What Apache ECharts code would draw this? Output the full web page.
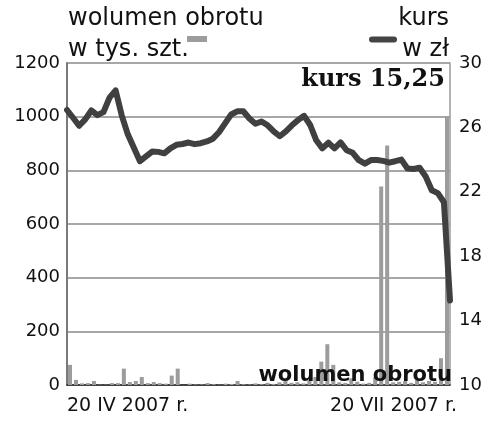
<!DOCTYPE html>
<html>
<head>
<meta charset="utf-8">
<script src="https://cdn.jsdelivr.net/npm/echarts@6/dist/echarts.min.js"></script>
<style>
html,body{margin:0;padding:0;background:#fff;}
#chart{width:500px;height:431px;}
</style>
</head>
<body>
<div id="chart"></div>
<script>
// Volume (thousand shares), one bar per trading day
var volume = [75, 19, 6, 7, 15, 1, 1, 7, 7, 61,
              11, 15, 30, 7, 11, 7, 5, 35, 61, 0,
              5, 2, 2, 7, 3, 1, 5, 4, 15, 3,
              2, 6, 3, 8, 4, 10, 15, 8, 10, 6,
              20, 30, 87, 152, 75, 10, 8, 25, 12, 5,
              8, 30, 740, 893, 10, 12, 15, 8, 20, 10,
              15, 12, 100, 1000];
// Share price (zł)
var price = [27.08, 26.6, 26.1, 26.5, 27.05, 26.76, 26.95, 27.85, 28.3, 26.75,
             25.57, 24.73, 23.9, 24.2, 24.5, 24.48, 24.39, 24.7, 24.92, 24.97,
             25.06, 24.96, 25.02, 25.13, 25.3, 25.7, 26.25, 26.8, 27.0, 27.0,
             26.55, 26.23, 26.37, 26.13, 25.75, 25.45, 25.75, 26.13, 26.45, 26.72,
             26.15, 25.2, 24.7, 25.05, 24.7, 25.07, 24.58, 24.42, 23.96, 23.75,
             23.97, 23.98, 23.92, 23.81, 23.9, 24.0, 23.45, 23.42, 23.49, 22.95,
             22.1, 21.92, 21.35, 15.25];
var dayIndex = volume.map(function (v, i) { return String(i); });
var xTickLabels = ['20 IV 2007 r.', '20 VII 2007 r.'];
var volTitle = ['wolumen obrotu', 'w tys. szt.'];
var priceTitle = ['kurs', 'w zł'];
var lastPriceLabel = 'kurs 15,25';
var volumeLabel = 'wolumen obrotu';

var FONT = '"DejaVu Sans", sans-serif';
var chart = echarts.init(document.getElementById('chart'), null, {renderer: 'canvas'});
var option = {
  backgroundColor: '#fff',
  animation: false,
  grid: {left: 67, right: 50, top: 63, bottom: 46, containLabel: false},
  xAxis: [
    {
      type: 'category', data: dayIndex, boundaryGap: true, position: 'bottom',
      axisLine: {show: true, lineStyle: {color: '#222', width: 1.5}},
      axisTick: {show: false}, axisLabel: {show: false}, splitLine: {show: false}
    },
    {
      type: 'category', data: dayIndex, boundaryGap: false, position: 'bottom',
      axisLine: {show: false}, axisTick: {show: false}, splitLine: {show: false},
      axisLabel: {
        show: true,
        interval: function (i) { return i === 0 || i === dayIndex.length - 1; },
        formatter: function (v, i) { return i === 0 ? xTickLabels[0] : xTickLabels[1]; },
        alignMinLabel: 'left', alignMaxLabel: 'right',
        padding: [0, -7, 0, 0],
        fontSize: 19, fontFamily: FONT, color: '#111', margin: 12
      }
    }
  ],
  yAxis: [
    {
      type: 'value', min: 0, max: 1200, interval: 200, position: 'left',
      axisLine: {show: true, lineStyle: {color: '#7a7a7a', width: 2}},
      axisTick: {show: false},
      splitLine: {show: true, lineStyle: {color: '#8a8a8a', width: 1.5}},
      axisLabel: {fontSize: 18, fontFamily: FONT, color: '#111', margin: 7,
        formatter: function (v) { return String(v); }}
    },
    {
      type: 'value', min: 10, max: 30, interval: 4, position: 'right',
      axisLine: {show: true, lineStyle: {color: '#9a9a9a', width: 1.5}},
      axisTick: {show: false}, splitLine: {show: false},
      axisLabel: {fontSize: 18, fontFamily: FONT, color: '#111', margin: 9,
        formatter: function (v) { return String(v); }}
    }
  ],
  series: [
    {
      type: 'bar', xAxisIndex: 0, yAxisIndex: 0, data: volume,
      barWidth: 4, itemStyle: {color: '#9c9c9c'}, z: 2
    },
    {
      type: 'line', xAxisIndex: 1, yAxisIndex: 1, data: price,
      symbol: 'none', lineStyle: {color: '#404040', width: 6, cap: 'round', join: 'round'}, z: 3
    }
  ],
  graphic: [
    {type: 'text', x: 68, y: 18.8, z: 100, style: {text: volTitle[0], font: '24px ' + FONT, fill: '#111', align: 'left', verticalAlign: 'middle'}},
    {type: 'text', x: 68, y: 49.8, z: 100, style: {text: volTitle[1], font: '24px ' + FONT, fill: '#111', align: 'left', verticalAlign: 'middle'}},
    {type: 'text', x: 449, y: 18.8, z: 100, style: {text: priceTitle[0], font: '24px ' + FONT, fill: '#111', align: 'right', verticalAlign: 'middle'}},
    {type: 'text', x: 449, y: 49.8, z: 100, style: {text: priceTitle[1], font: '24px ' + FONT, fill: '#111', align: 'right', verticalAlign: 'middle'}},
    {type: 'rect', z: 100, shape: {x: 187, y: 36, width: 20, height: 6}, style: {fill: '#9c9c9c'}},
    {type: 'line', z: 100, shape: {x1: 372, y1: 39.5, x2: 394, y2: 39.5}, style: {stroke: '#444', lineWidth: 6, lineCap: 'round'}},
    {type: 'text', x: 445, y: 79.8, z: 100, style: {text: lastPriceLabel, font: 'bold 24px "DejaVu Serif", serif', fill: '#111', align: 'right', verticalAlign: 'middle'}},
    {type: 'text', x: 452, y: 375.7, z: 100, style: {text: volumeLabel, font: 'bold 21px ' + FONT, fill: '#111', align: 'right', verticalAlign: 'middle'}}
  ]
};
chart.setOption(option);
</script>
</body>
</html>
